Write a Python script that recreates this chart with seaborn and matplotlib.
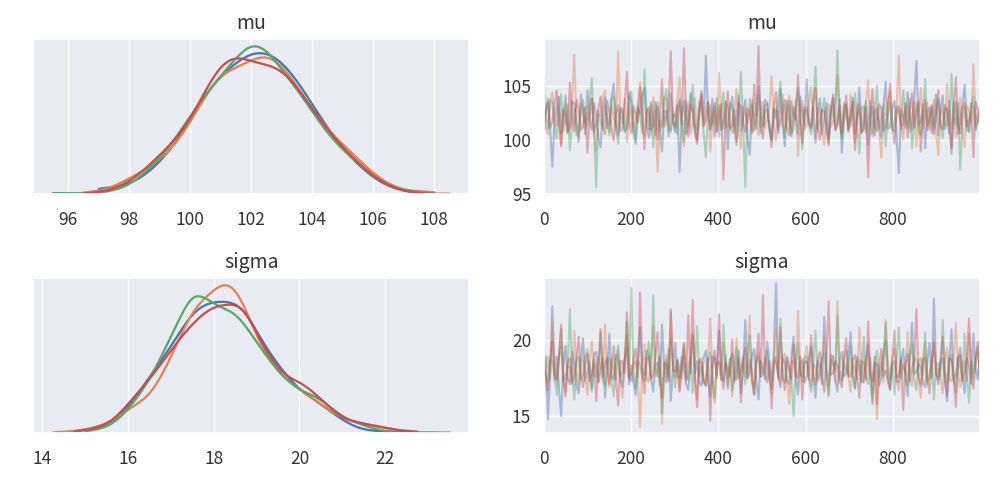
import matplotlib
matplotlib.use("Agg")
import matplotlib.pyplot as plt
from matplotlib.ticker import MultipleLocator
import numpy as np
import pandas as pd
import seaborn as sns

chain_colors = ["#4C72B0", "#DD8452", "#55A868", "#C44E52"]

# --- posterior densities, on an even grid per chain ---
# mu: grid start, step 0.5
mu_kde_start = [97.0, 96.5, 95.5, 96.5]
mu_kde_step = 0.5
mu_kde_y_0 = [0.009, 0.009, 0.013, 0.025, 0.043, 0.068, 0.100, 0.137, 0.162, 0.180, 0.194, 0.195,
              0.182, 0.156, 0.123, 0.090, 0.062, 0.040, 0.022, 0.010, 0.004, 0.002, 0.001]
mu_kde_y_1 = [0.002, 0.004, 0.010, 0.021, 0.033, 0.046, 0.066, 0.097, 0.135, 0.165, 0.172, 0.183,
              0.192, 0.177, 0.148, 0.115, 0.088, 0.068, 0.048, 0.028, 0.013, 0.005, 0.004, 0.003]
mu_kde_y_2 = [0.002, 0.001, 0.001, 0.0015, 0.005, 0.011, 0.029, 0.048, 0.075, 0.107, 0.137, 0.162,
              0.187, 0.210, 0.201, 0.170, 0.145, 0.113, 0.083, 0.060, 0.043, 0.023, 0.011, 0.005,
              0.002, 0.001]
mu_kde_y_3 = [0.001, 0.002, 0.007, 0.016, 0.033, 0.053, 0.073, 0.100, 0.142, 0.178, 0.190, 0.180,
              0.177, 0.170, 0.147, 0.115, 0.088, 0.063, 0.043, 0.024, 0.011, 0.004, 0.001, 0.0, 0.001]

# sigma: grid start, step 0.25
sigma_kde_start = [14.75, 14.25, 15.0, 14.75]
sigma_kde_step = 0.25
sigma_kde_y_0 = [0.004, 0.0075, 0.012, 0.020, 0.037, 0.063, 0.097, 0.135, 0.172, 0.208, 0.252, 0.290,
                 0.310, 0.318, 0.319, 0.316, 0.295, 0.245, 0.203, 0.165, 0.133, 0.105, 0.087, 0.070,
                 0.050, 0.032, 0.017, 0.008, 0.005, 0.004, 0.003, 0.002, 0.001, 0.001, 0.001, 0.001]
sigma_kde_y_1 = [0.0015, 0.003, 0.005, 0.008, 0.014, 0.023, 0.037, 0.057, 0.072, 0.090, 0.130, 0.182,
                 0.240, 0.294, 0.322, 0.345, 0.365, 0.352, 0.300, 0.232, 0.185, 0.148, 0.124, 0.105,
                 0.087, 0.070, 0.052, 0.036, 0.028, 0.023, 0.018, 0.013, 0.010]
sigma_kde_y_2 = [0.004, 0.008, 0.014, 0.030, 0.057, 0.090, 0.130, 0.180, 0.234, 0.290, 0.343, 0.335,
                 0.315, 0.303, 0.294, 0.262, 0.221, 0.185, 0.150, 0.125, 0.105, 0.094, 0.083, 0.060,
                 0.040, 0.028, 0.019, 0.010, 0.004, 0.002, 0.001, 0.001, 0.001, 0.0]
sigma_kde_y_3 = [0.003, 0.0075, 0.012, 0.020, 0.040, 0.070, 0.100, 0.130, 0.165, 0.199, 0.235, 0.264,
                 0.290, 0.307, 0.311, 0.316, 0.298, 0.242, 0.195, 0.156, 0.133, 0.125, 0.106, 0.083,
                 0.058, 0.036, 0.028, 0.023, 0.017, 0.012, 0.008, 0.005, 0.004]

# --- sampled traces (every 5th draw, estimated from the right panels) ---
mu_trace_0 = [
    101.5, 102.6, 103.8, 100.9, 97.5, 101.8, 102.9, 104.0, 100.6, 102.3, 104.1, 100.7, 101.2, 103.6, 103.3, 101.4, 99.8, 104.2, 102.7, 100.5,
    104.6, 101.9, 100.9, 103.4, 102.2, 100.2, 99.3, 102.8, 103.9, 101.1, 101.6, 103.9, 105.2, 101.7, 100.4, 103.0, 102.8, 100.8, 101.0, 104.4,
    103.5, 100.6, 99.6, 102.9, 102.4, 104.1, 104.8, 101.3, 100.2, 103.5, 101.9, 100.4, 103.1, 101.0, 98.9, 102.7, 102.6, 100.3, 104.3, 101.8,
    100.7, 103.2, 97.0, 102.1, 103.6, 100.5, 101.4, 104.3, 102.9, 100.8, 99.9, 102.5, 104.5, 101.6, 107.8, 102.4, 101.1, 103.8, 100.3, 102.0,
    103.2, 100.9, 101.7, 103.5, 99.1, 102.6, 104.0, 100.7, 102.3, 104.1, 100.8, 102.2, 103.7, 100.1, 98.6, 103.3, 102.1, 101.0, 105.0, 102.8,
    101.3, 103.7, 103.4, 101.2, 100.0, 102.9, 102.7, 100.6, 104.7, 101.9, 99.4, 103.6, 101.8, 100.3, 103.0, 102.1, 100.5, 104.0, 102.5, 101.3,
    105.6, 101.6, 101.0, 103.0, 99.7, 102.4, 103.8, 100.5, 102.0, 103.4, 100.1, 102.7, 104.2, 100.9, 101.5, 103.8, 98.8, 101.7, 103.3, 100.8,
    102.4, 103.9, 100.6, 102.2, 104.9, 100.7, 101.9, 103.6, 99.5, 102.0, 103.1, 100.4, 102.8, 101.5, 100.2, 103.2, 105.4, 101.0, 101.2, 102.9,
    103.6, 100.3, 96.9, 102.8, 102.2, 101.1, 104.4, 102.0, 100.9, 103.9, 107.3, 101.4, 101.6, 103.3, 99.2, 102.5, 103.0, 100.6, 102.5, 104.2,
    100.4, 102.7, 104.1, 101.0, 101.4, 103.6, 98.7, 102.3, 103.5, 100.5, 102.0, 103.1, 105.1, 101.8, 100.8, 103.4, 102.9, 100.9, 101.7, 102.4]
mu_trace_1 = [
    102.8, 101.2, 100.5, 103.6, 104.4, 101.9, 101.3, 103.0, 99.6, 102.4, 103.2, 100.8, 101.0, 103.5, 107.9, 101.6, 100.2, 103.3, 102.6, 101.0,
    101.4, 103.1, 103.9, 100.6, 99.0, 102.7, 102.2, 104.0, 104.6, 101.5, 100.7, 103.2, 102.0, 100.9, 108.2, 102.3, 101.5, 103.8, 99.8, 102.1,
    103.0, 100.7, 101.8, 103.4, 105.3, 101.6, 100.3, 102.9, 102.5, 100.4, 104.0, 102.2, 97.0, 101.8, 101.2, 103.9, 103.7, 101.3, 100.9, 102.6,
    102.1, 103.7, 105.8, 101.0, 99.4, 102.8, 103.4, 100.6, 101.6, 103.9, 100.0, 102.5, 104.3, 101.2, 102.7, 103.5, 98.9, 101.7, 103.1, 100.8,
    106.2, 102.0, 101.0, 103.6, 102.9, 101.3, 100.6, 102.8, 104.7, 100.9, 99.2, 103.1, 102.3, 101.5, 103.8, 100.7, 101.1, 103.4, 100.4, 102.2,
    103.5, 101.1, 101.9, 103.0, 105.9, 101.7, 99.9, 102.6, 102.4, 104.2, 100.8, 102.3, 104.1, 100.5, 102.0, 103.7, 98.5, 101.9, 103.6, 100.9,
    101.3, 103.4, 104.9, 101.6, 100.1, 102.9, 102.6, 100.8, 99.5, 102.5, 103.3, 101.2, 101.7, 103.8, 106.0, 101.4, 100.5, 103.1, 102.8, 100.7,
    104.2, 101.8, 99.7, 103.2, 102.1, 100.6, 101.0, 103.5, 105.5, 101.4, 100.3, 102.7, 103.0, 100.9, 98.3, 102.2, 102.4, 103.6, 104.5, 101.1,
    101.6, 103.0, 107.8, 101.5, 100.0, 102.8, 103.2, 100.7, 101.8, 103.6, 99.4, 102.1, 104.8, 101.0, 102.3, 103.4, 100.9, 102.5, 103.7, 100.6,
    98.6, 102.9, 102.5, 101.3, 105.2, 102.0, 101.1, 103.5, 100.2, 101.7, 103.9, 100.8, 99.3, 103.2, 102.7, 101.6, 107.0, 102.4, 101.5, 103.0]
mu_trace_2 = [
    106.0, 102.3, 101.1, 103.7, 103.4, 101.2, 100.1, 102.9, 104.2, 100.8, 101.9, 103.3, 99.0, 101.6, 102.8, 100.4, 100.6, 102.7, 103.7, 101.5,
    102.0, 103.6, 105.7, 101.0, 95.6, 102.4, 101.8, 100.9, 103.1, 102.2, 100.4, 103.8, 104.0, 101.3, 99.6, 102.8, 102.6, 100.7, 101.3, 103.4,
    104.5, 101.7, 100.0, 103.1, 102.3, 100.6, 106.5, 102.5, 101.0, 103.3, 99.3, 101.9, 103.5, 100.8, 101.6, 103.7, 104.7, 101.2, 100.7, 102.4,
    102.2, 100.5, 103.8, 102.0, 99.8, 103.6, 101.4, 102.8, 105.1, 101.3, 100.9, 103.5, 102.9, 100.7, 98.4, 102.6, 103.2, 101.4, 101.7, 103.9,
    100.3, 102.6, 104.4, 101.1, 101.2, 103.4, 103.0, 100.9, 99.5, 102.7, 106.3, 101.6, 95.6, 102.2, 102.5, 103.7, 100.8, 101.8, 104.1, 100.6,
    101.5, 103.2, 103.3, 100.8, 99.9, 102.9, 102.0, 103.6, 105.4, 101.4, 100.2, 102.5, 103.6, 100.6, 101.0, 103.1, 104.8, 101.7, 99.1, 102.8,
    102.7, 101.3, 100.5, 103.5, 106.8, 101.0, 101.8, 102.6, 103.9, 100.9, 99.7, 103.2, 102.4, 101.5, 108.3, 102.0, 100.0, 103.4, 102.9, 101.1,
    101.3, 102.8, 104.3, 101.2, 98.7, 103.0, 103.1, 100.7, 101.6, 103.6, 100.6, 102.3, 105.0, 101.0, 102.1, 103.3, 99.4, 102.4, 103.5, 100.9,
    100.8, 103.1, 102.6, 101.4, 104.6, 102.2, 101.1, 103.8, 99.2, 101.6, 103.4, 100.9, 100.4, 102.7, 105.6, 101.3, 102.2, 103.0, 101.0, 102.5,
    103.8, 101.5, 100.1, 102.8, 102.9, 100.6, 106.1, 102.1, 101.4, 103.4, 97.2, 101.8, 103.0, 100.9, 100.7, 103.2, 104.0, 101.2, 102.3, 102.7]
mu_trace_3 = [
    100.2, 102.6, 103.5, 101.1, 101.7, 103.3, 104.6, 101.5, 99.4, 102.8, 102.1, 100.6, 105.3, 102.0, 100.8, 103.7, 102.9, 100.9, 101.2, 103.0,
    98.8, 102.2, 103.8, 100.7, 101.5, 102.9, 104.0, 101.3, 100.5, 103.6, 102.6, 101.0, 99.9, 102.5, 103.2, 100.8, 101.0, 103.4, 106.3, 101.7,
    100.6, 103.1, 102.4, 101.6, 104.9, 102.3, 99.1, 102.7, 103.0, 100.9, 101.4, 103.5, 100.0, 102.1, 105.6, 101.2, 102.2, 103.0, 108.2, 101.8,
    101.1, 102.9, 103.6, 101.4, 108.5, 102.3, 100.3, 103.2, 102.7, 100.8, 99.6, 102.6, 104.2, 101.3, 101.8, 103.5, 100.9, 102.0, 103.4, 100.7,
    102.0, 103.3, 96.3, 102.1, 104.5, 101.0, 101.3, 102.8, 99.8, 103.4, 103.1, 101.5, 100.7, 102.9, 102.5, 100.6, 105.1, 102.2, 108.7, 101.4,
    100.1, 102.7, 102.8, 101.2, 99.3, 103.1, 104.4, 100.9, 101.6, 102.5, 103.7, 101.0, 100.4, 103.6, 102.3, 101.8, 106.0, 102.4, 99.7, 103.0,
    103.0, 101.6, 101.2, 103.4, 104.8, 101.1, 100.0, 102.8, 102.6, 101.3, 99.5, 102.6, 103.9, 100.9, 101.4, 103.2, 100.6, 102.3, 104.1, 101.0,
    102.1, 103.5, 99.0, 102.2, 103.3, 100.7, 101.0, 103.0, 96.5, 102.4, 104.7, 101.2, 100.8, 103.3, 102.9, 100.8, 101.3, 102.6, 105.2, 101.5,
    99.6, 102.5, 103.1, 101.0, 101.5, 103.4, 100.2, 102.7, 104.3, 101.1, 102.4, 103.6, 98.9, 102.1, 103.7, 100.9, 101.8, 103.2, 100.5, 102.4,
    104.6, 101.3, 101.0, 103.2, 102.7, 100.8, 99.2, 102.9, 105.8, 101.5, 100.6, 103.0, 103.4, 101.2, 101.9, 102.6, 98.4, 103.5, 102.8, 101.7]

sigma_trace_0 = [
    17.6, 18.9, 14.8, 17.8, 22.2, 17.4, 18.9, 16.8, 15.0, 18.3, 19.6, 17.5, 17.1, 19.2, 18.4, 17.0, 16.5, 18.6, 20.1, 17.3,
    17.9, 18.5, 16.8, 19.1, 19.2, 17.2, 18.0, 18.8, 16.2, 17.9, 20.4, 17.6, 17.4, 19.0, 18.7, 17.3, 16.9, 18.7, 19.5, 17.1,
    18.3, 17.2, 16.4, 18.6, 20.8, 17.9, 17.7, 19.3, 19.0, 17.5, 16.6, 18.4, 18.5, 17.0, 21.0, 18.2, 17.2, 19.4, 16.0, 18.1,
    19.8, 17.6, 17.5, 18.9, 18.1, 17.1, 16.7, 18.5, 20.3, 17.8, 18.6, 17.2, 17.0, 18.8, 19.3, 17.4, 16.3, 18.9, 18.8, 17.7,
    20.6, 18.0, 17.3, 19.0, 16.8, 18.4, 19.1, 17.2, 18.2, 19.3, 16.5, 18.1, 21.3, 17.5, 17.8, 18.9, 19.4, 17.3, 16.1, 18.6,
    18.0, 17.4, 19.9, 18.3, 17.4, 19.1, 23.7, 17.6, 16.9, 18.8, 18.5, 17.3, 17.1, 18.9, 20.2, 17.7, 16.4, 18.5, 18.7, 17.2,
    17.6, 18.8, 19.6, 17.5, 16.2, 18.6, 18.3, 17.1, 21.5, 18.2, 17.0, 19.0, 18.9, 17.4, 16.6, 18.7, 19.2, 17.6, 17.8, 18.9,
    20.5, 17.7, 16.8, 18.9, 18.1, 17.2, 17.3, 18.8, 19.7, 17.5, 15.8, 18.5, 18.4, 17.0, 17.5, 19.1, 20.0, 17.8, 16.7, 18.4,
    18.6, 17.3, 17.2, 18.7, 19.4, 17.6, 16.3, 18.9, 21.1, 17.8, 17.9, 18.4, 18.2, 17.2, 16.9, 18.6, 19.8, 17.5, 22.7, 18.0,
    17.1, 18.6, 18.8, 17.4, 16.0, 18.5, 20.7, 17.3, 17.7, 18.9, 19.0, 17.6, 16.5, 18.8, 18.3, 17.1, 20.4, 18.2, 17.4, 18.7]
sigma_trace_1 = [
    16.0, 17.8, 18.9, 17.4, 21.2, 18.5, 17.3, 18.9, 19.5, 17.6, 16.6, 18.3, 18.2, 17.1, 20.6, 18.0, 17.0, 18.8, 18.7, 17.5,
    16.4, 18.6, 19.9, 17.7, 17.6, 18.9, 18.4, 17.2, 21.0, 18.1, 16.9, 18.7, 18.0, 17.4, 19.3, 17.9, 16.2, 18.5, 20.3, 17.6,
    17.8, 18.4, 18.6, 17.3, 14.3, 18.2, 19.7, 17.5, 17.2, 18.8, 20.9, 17.6, 18.1, 18.9, 14.5, 18.0, 19.0, 17.4, 21.8, 18.3,
    17.5, 18.7, 16.7, 18.2, 19.4, 17.3, 18.3, 18.9, 20.4, 17.6, 16.1, 18.5, 18.8, 17.2, 17.4, 18.8, 21.4, 17.7, 15.9, 18.4,
    18.5, 17.4, 19.8, 18.1, 17.0, 18.7, 16.3, 17.9, 20.1, 17.5, 18.0, 18.8, 17.6, 19.0, 21.6, 17.3, 16.8, 18.6, 19.2, 17.8,
    17.9, 18.8, 18.4, 17.5, 16.5, 18.3, 20.7, 17.7, 17.1, 18.9, 19.1, 17.4, 15.8, 18.5, 18.6, 17.6, 21.9, 18.2, 17.3, 18.7,
    19.6, 17.6, 16.9, 18.4, 18.2, 17.3, 17.7, 18.8, 20.2, 17.9, 16.4, 18.6, 18.9, 17.2, 22.5, 18.0, 17.4, 18.7, 19.3, 17.5,
    16.6, 18.5, 18.0, 17.4, 20.8, 18.1, 17.2, 18.9, 19.0, 17.6, 16.0, 18.3, 14.8, 17.8, 18.5, 17.2, 21.3, 18.4, 17.6, 18.8,
    19.4, 17.3, 16.7, 18.6, 18.3, 17.8, 20.5, 17.4, 17.0, 18.9, 18.7, 17.5, 16.2, 18.7, 19.9, 17.1, 17.8, 18.5, 20.0, 17.7,
    18.1, 17.6, 16.5, 18.7, 19.5, 17.4, 17.3, 18.8, 21.1, 17.7, 16.9, 18.5, 18.6, 17.3, 20.4, 18.2, 17.5, 18.9, 19.2, 17.8]
sigma_trace_2 = [
    19.8, 17.5, 17.2, 18.7, 18.6, 17.6, 16.4, 18.8, 20.7, 17.3, 17.5, 18.4, 22.0, 17.8, 16.1, 18.6, 18.9, 17.4, 17.7, 18.9,
    19.4, 17.7, 16.6, 18.5, 18.2, 17.3, 20.5, 17.9, 17.0, 18.6, 18.8, 17.4, 16.3, 18.7, 19.6, 17.6, 17.8, 18.9, 21.2, 17.5,
    23.4, 18.0, 16.8, 18.6, 18.4, 17.5, 17.3, 18.8, 19.9, 17.4, 22.9, 18.2, 17.6, 18.9, 15.2, 17.7, 18.7, 17.6, 20.1, 18.4,
    16.9, 18.7, 18.1, 17.5, 19.7, 17.8, 17.4, 18.9, 16.5, 18.3, 20.9, 17.6, 18.3, 17.2, 17.0, 18.6, 19.2, 17.4, 16.2, 18.5,
    18.6, 17.4, 21.0, 18.2, 17.5, 18.8, 16.7, 17.7, 19.5, 17.5, 18.0, 18.9, 17.1, 18.4, 20.3, 17.3, 16.4, 18.6, 18.9, 17.6,
    17.7, 18.6, 19.3, 17.4, 16.8, 18.7, 18.5, 17.8, 21.4, 17.5, 17.2, 18.9, 18.2, 17.3, 15.0, 18.4, 19.8, 17.7, 17.6, 18.8,
    18.9, 17.5, 16.6, 18.5, 20.6, 17.4, 17.9, 18.8, 19.1, 17.6, 16.3, 18.7, 18.4, 17.9, 21.6, 17.4, 17.3, 18.6, 18.0, 17.7,
    19.6, 17.8, 16.9, 18.6, 18.7, 17.3, 20.2, 17.6, 17.1, 18.8, 16.5, 18.3, 19.3, 17.5, 18.1, 18.9, 21.1, 17.6, 17.4, 18.5,
    16.4, 18.7, 20.8, 17.5, 18.3, 18.0, 17.0, 18.9, 19.7, 17.4, 16.7, 18.6, 18.8, 17.7, 20.5, 17.3, 17.5, 18.8, 16.1, 18.2,
    18.5, 17.6, 21.3, 17.9, 17.2, 18.7, 19.0, 17.4, 16.6, 18.8, 18.2, 17.5, 20.4, 17.7, 15.9, 18.6, 17.8, 18.9, 19.6, 17.6]
sigma_trace_3 = [
    18.2, 17.5, 16.7, 18.6, 19.9, 17.7, 17.4, 18.9, 21.0, 17.4, 16.3, 18.5, 18.8, 17.2, 17.6, 18.8, 20.2, 17.6, 16.9, 18.4,
    19.1, 17.3, 17.8, 18.7, 16.0, 18.5, 20.7, 17.6, 18.4, 18.9, 17.1, 18.2, 19.6, 17.4, 15.7, 18.6, 18.6, 17.8, 21.8, 17.5,
    17.3, 18.8, 19.4, 17.6, 23.1, 18.2, 16.5, 18.7, 18.9, 17.5, 17.7, 18.9, 20.5, 17.7, 16.2, 18.5, 18.3, 17.3, 22.0, 18.0,
    17.9, 18.6, 16.6, 18.4, 19.8, 17.4, 21.6, 17.8, 22.6, 17.6, 15.6, 18.7, 18.5, 17.3, 17.0, 18.8, 14.7, 18.1, 19.3, 17.5,
    21.7, 17.7, 16.8, 18.5, 18.1, 17.6, 20.0, 17.4, 17.4, 18.8, 15.9, 18.6, 19.5, 17.5, 18.7, 17.9, 16.4, 18.7, 20.4, 17.6,
    22.9, 17.8, 17.2, 18.6, 15.5, 18.4, 18.9, 17.5, 20.8, 17.7, 16.7, 18.8, 18.0, 17.4, 19.7, 17.6, 17.5, 18.9, 16.1, 18.5,
    18.6, 17.4, 20.3, 17.6, 17.1, 18.7, 19.2, 17.5, 16.6, 18.8, 22.5, 17.7, 17.8, 18.6, 18.3, 17.3, 16.9, 18.9, 20.1, 17.6,
    17.6, 18.7, 19.0, 17.5, 16.2, 18.6, 18.5, 17.4, 21.2, 17.8, 17.3, 18.9, 15.8, 18.3, 19.4, 17.6, 18.0, 17.2, 16.8, 18.7,
    20.6, 17.5, 17.7, 18.8, 15.4, 18.4, 19.1, 17.3, 18.2, 18.6, 22.0, 17.6, 17.0, 18.7, 18.8, 17.4, 16.5, 18.5, 19.8, 17.7,
    17.4, 18.6, 20.2, 17.5, 16.3, 18.8, 18.7, 17.6, 15.6, 18.4, 19.5, 17.3, 17.9, 18.7, 21.4, 17.8, 16.8, 18.5, 19.9, 17.4]

n_draws = 1000

mu_kde_y = [mu_kde_y_0, mu_kde_y_1, mu_kde_y_2, mu_kde_y_3]
sigma_kde_y = [sigma_kde_y_0, sigma_kde_y_1, sigma_kde_y_2, sigma_kde_y_3]
mu_traces = [mu_trace_0, mu_trace_1, mu_trace_2, mu_trace_3]
sigma_traces = [sigma_trace_0, sigma_trace_1, sigma_trace_2, sigma_trace_3]


def trace_frame(traces):
    rows = []
    for c, values in enumerate(traces):
        draws = np.linspace(0, n_draws - 1, len(values))
        rows.append(pd.DataFrame({"draw": draws, "value": values, "chain": str(c)}))
    return pd.concat(rows, ignore_index=True)


sns.set_theme(style="darkgrid")
plt.rcParams["font.family"] = ["Noto Sans CJK JP", "DejaVu Sans"]

fig, axes = plt.subplots(2, 2, figsize=(9.94, 4.79), dpi=100)
fig.subplots_adjust(left=0.0332, right=0.9859, bottom=0.096, top=0.9186,
                    wspace=0.17, hspace=0.54)

panels = [("mu", mu_kde_start, mu_kde_step, mu_kde_y, mu_traces, (94.95, 109.35), 0.35),
          ("sigma", sigma_kde_start, sigma_kde_step, sigma_kde_y, sigma_traces, (13.9, 24.05), 0.18)]

for row, (name, starts, step, kde_ys, traces, trace_ylim, bw) in enumerate(panels):
    ax_kde, ax_trace = axes[row]

    # smooth the read-off density curves with seaborn's weighted KDE
    for c, ys in enumerate(kde_ys):
        ys = np.asarray(ys)
        xs = starts[c] + step * np.arange(len(ys))
        spread = np.sqrt(np.sum(ys * (xs - np.average(xs, weights=ys)) ** 2) / ys.sum())
        sns.kdeplot(x=xs, weights=ys, bw_method=bw / spread, cut=0, gridsize=300,
                    ax=ax_kde, color=chain_colors[c], lw=1.6)
    ax_kde.set_yticks([])
    ax_kde.set_ylabel("")
    ax_kde.xaxis.set_major_locator(MultipleLocator(2))

    df = trace_frame(traces)
    sns.lineplot(data=df, x="draw", y="value", hue="chain", palette=chain_colors,
                 ax=ax_trace, alpha=0.42, lw=1.5, legend=False, estimator=None)
    ax_trace.set_xlim(0, n_draws - 1)
    ax_trace.set_ylim(*trace_ylim)
    ax_trace.yaxis.set_major_locator(MultipleLocator(5))
    ax_trace.xaxis.set_major_locator(MultipleLocator(200))
    ax_trace.set_xlabel("")
    ax_trace.set_ylabel("")

    for ax in (ax_kde, ax_trace):
        ax.set_title(name, fontsize=14, color="#333333", pad=7)
        ax.tick_params(axis="x", labelsize=12.5, pad=6, colors="#333333")
        ax.tick_params(axis="y", labelsize=12.5, pad=3, colors="#333333")

fig.savefig("out.png", dpi=100)
